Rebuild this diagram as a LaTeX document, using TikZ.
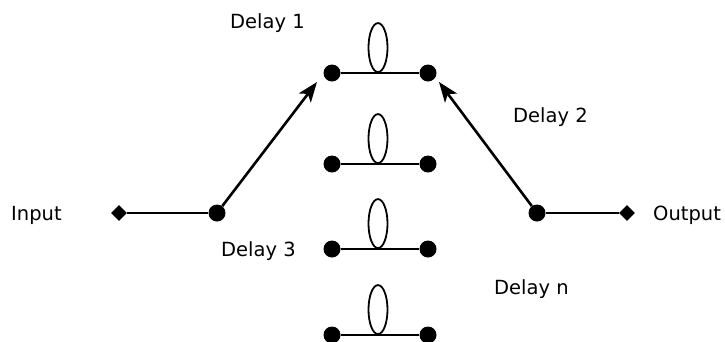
\documentclass[tikz,border=0pt]{standalone}
\usepackage{fontspec}
\setmainfont{DejaVu Sans}
\usetikzlibrary{arrows.meta,shapes.geometric}
\begin{document}
\begin{tikzpicture}[x=1pt,y=-1pt,
  dot/.style={circle,fill=black,inner sep=0pt,minimum size=17pt},
  term/.style={diamond,fill=black,inner sep=0pt,minimum size=16pt},
  loopshape/.style={ellipse,draw=black,line width=1.8pt,inner sep=0pt,minimum width=19pt,minimum height=49pt,anchor=south},
  wire/.style={line width=2.6pt},
  arr/.style={line width=2.6pt,-{Stealth[length=20pt,width=15pt,inset=5pt]}},
  lbl/.style={anchor=base west,inner sep=0pt,font=\fontsize{19.5pt}{23pt}\selectfont}]
\useasboundingbox (0,0) rectangle (725,341);
% delay rows
\foreach \r/\y in {1/73,2/164,3/249,4/335}{
  \node[dot] (a\r) at (332,\y) {};
  \node[dot] (b\r) at (428,\y) {};
  \draw[wire] (a\r) -- (b\r);
  \node[loopshape] (e\r) at (378,\y) {};
}
% input side
\node[term] (in) at (119,213) {};
\node[dot] (sp) at (217,213) {};
\draw[wire] (in) -- (sp);
\coordinate (t1) at (317,82);
\draw[arr] (sp) -- (t1);
% output side
\node[dot] (mg) at (537,213) {};
\node[term] (out) at (627,213) {};
\draw[wire] (mg) -- (out);
\coordinate (t2) at (439,82);
\draw[arr] (mg) -- (t2);
% labels
\node[lbl] (lin) at (11,220) {Input};
\node[lbl] (lout) at (653,220) {Output};
\node[lbl] (d1) at (230,28) {Delay 1};
\node[lbl] (d2) at (513,122) {Delay 2};
\node[lbl] (d3) at (221,256) {Delay 3};
\node[lbl] (dn) at (494,294) {Delay n};
\end{tikzpicture}
\end{document}
